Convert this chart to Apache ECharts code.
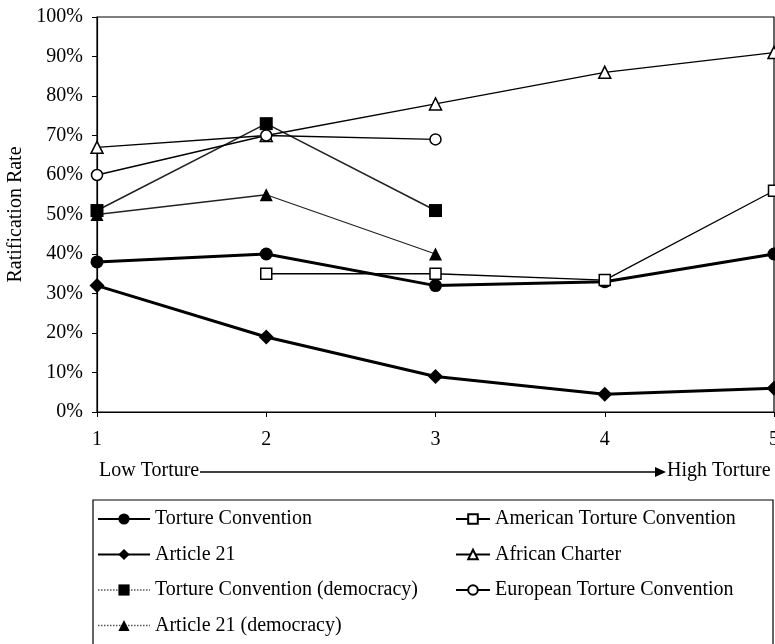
<!DOCTYPE html>
<html>
<head>
<meta charset="utf-8">
<script src="https://cdn.jsdelivr.net/npm/echarts@6/dist/echarts.min.js"></script>
<style>html,body{margin:0;padding:0;background:#fff;}#c{width:775px;height:644px;}</style>
</head>
<body>
<div id="c"></div>
<script>
var categories = ['1', '2', '3', '4', '5'];
var yTicks = [0, 10, 20, 30, 40, 50, 60, 70, 80, 90, 100];
var tortureConvention = [38, 40, 32, 33, 40];
var article21 = [32, 19, 9, 4.5, 6];
var tortureConventionDem = [51, 73, 51, null, null];
var article21Dem = [50, 55, 40, null, null];
var americanConvention = [null, 35, 35, 33.4, 56];
var africanCharter = [67, 70, 78, 86, 91];
var europeanConvention = [60, 70, 69, null, null];
var axisLabelLow = 'Low Torture';
var axisLabelHigh = 'High Torture';

var FONT = 'Liberation Serif';
var FS = 20;
function filled(name, data, symbol, size, width, color) {
  return {
    name: name, type: 'line', data: data, symbol: symbol, symbolSize: size,
    showAllSymbol: true, connectNulls: false, animation: false,
    lineStyle: { color: color, width: width },
    itemStyle: { color: '#000', borderColor: '#000', borderWidth: 0 }
  };
}
function hollow(name, data, symbol, size) {
  return {
    name: name, type: 'line', data: data, symbol: symbol, symbolSize: size,
    showAllSymbol: true, connectNulls: false, animation: false,
    lineStyle: { color: '#000', width: 1.3 },
    itemStyle: { color: '#fff', borderColor: '#000', borderWidth: 1.5 }
  };
}

var chart = echarts.init(document.getElementById('c'), null, { renderer: 'canvas' });
chart.setOption({
  backgroundColor: '#fff',
  animation: false,
  grid: { left: 97, right: 1, top: 17, bottom: 232, containLabel: false, outerBoundsMode: 'none', show: true, borderColor: '#000', borderWidth: 1.2, backgroundColor: 'transparent' },
  xAxis: {
    type: 'category', data: categories, boundaryGap: false,
    axisLine: { lineStyle: { color: '#000', width: 1.2 } },
    axisTick: { show: true, alignWithLabel: true, length: 5, lineStyle: { color: '#000' } },
    axisLabel: { color: '#000', fontFamily: FONT, fontSize: FS, margin: 18, hideOverlap: false, showMaxLabel: true },
    splitLine: { show: false }
  },
  yAxis: {
    type: 'value', min: 0, max: 100, interval: 10,
    name: 'Ratification Rate', nameLocation: 'middle', nameGap: 70, nameRotate: 90,
    nameTextStyle: { color: '#000', fontFamily: FONT, fontSize: FS },
    axisLine: { show: true, lineStyle: { color: '#000', width: 1.2 } },
    axisTick: { show: true, length: 5, lineStyle: { color: '#000' } },
    axisLabel: { color: '#000', fontFamily: FONT, fontSize: FS, margin: 14, formatter: '{value}%' },
    splitLine: { show: false }
  },
  legend: [
    {
      orient: 'vertical', left: 97, top: 509, padding: 0, itemWidth: 52, itemHeight: 14, itemGap: 15.5,
      textStyle: { color: '#000', fontFamily: FONT, fontSize: FS },
      data: [
        { name: 'Torture Convention' },
        { name: 'Article 21' },
        { name: 'Torture Convention (democracy)', lineStyle: { type: 'dotted', color: '#555', width: 1.5 } },
        { name: 'Article 21 (democracy)', lineStyle: { type: 'dotted', color: '#555', width: 1.5 } }
      ]
    },
    {
      orient: 'vertical', left: 455, top: 509, padding: 0, itemWidth: 34, itemHeight: 12, itemGap: 15.5,
      textStyle: { color: '#000', fontFamily: FONT, fontSize: FS },
      data: ['American Torture Convention', 'African Charter', 'European Torture Convention']
    }
  ],
  graphic: [
    { type: 'text', left: 99, top: 461, style: { text: axisLabelLow, fontFamily: FONT, fontSize: FS, fill: '#000' } },
    { type: 'line', shape: { x1: 200, y1: 472, x2: 657, y2: 472 }, style: { stroke: '#000', lineWidth: 1.5 } },
    { type: 'polygon', shape: { points: [[655, 467], [666, 472], [655, 477]] }, style: { fill: '#000' } },
    { type: 'text', left: 667, top: 461, style: { text: axisLabelHigh, fontFamily: FONT, fontSize: FS, fill: '#000' } },
    { type: 'rect', shape: { x: 93, y: 500, width: 680, height: 170 }, style: { fill: 'none', stroke: '#000', lineWidth: 1.2 }, z: 0 }
  ],
  series: [
    filled('Torture Convention', tortureConvention, 'circle', 13, 3, '#000'),
    filled('Article 21', article21, 'diamond', 15, 3, '#000'),
    filled('Torture Convention (democracy)', tortureConventionDem, 'rect', 13, 1.6, '#222'),
    filled('Article 21 (democracy)', article21Dem, 'triangle', 13, 1.3, '#222'),
    hollow('American Torture Convention', americanConvention, 'rect', 11),
    hollow('African Charter', africanCharter, 'triangle', 12),
    hollow('European Torture Convention', europeanConvention, 'circle', 11)
  ]
});
</script>
</body>
</html>
